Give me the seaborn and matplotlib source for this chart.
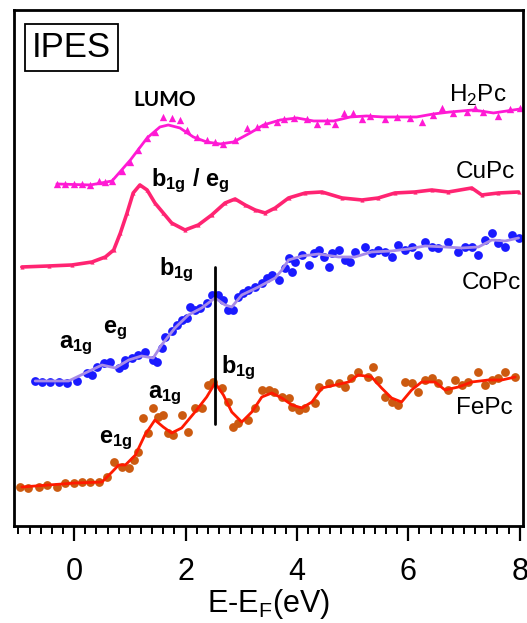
import matplotlib
matplotlib.use("Agg")
import matplotlib.pyplot as plt
import seaborn as sns

# Données (énergie en eV, intensité en unités arbitraires, décalées)
h2pc_fit_x = [-0.31, 0.29, 0.68, 1.01, 1.31, 1.54, 1.69, 1.90, 2.14, 2.38, 2.62, 2.86, 3.16, 3.40,
              3.70, 4.00, 4.30, 4.66, 4.96, 5.25, 5.55, 6.15, 6.45, 6.75, 7.17, 7.53, 8.01]
h2pc_fit_y = [3.42, 3.41, 3.45, 3.66, 3.88, 3.99, 4.01, 3.98, 3.89, 3.84, 3.82, 3.84, 3.93, 4.01,
              4.06, 4.08, 4.05, 4.05, 4.09, 4.10, 4.09, 4.09, 4.12, 4.14, 4.16, 4.13, 4.17]
h2pc_x = [-0.31, -0.16, -0.01, 0.14, 0.29, 0.44, 0.56, 0.68, 0.86, 1.01, 1.15, 1.30, 1.45, 1.60,
          1.75, 1.90, 2.02, 2.20, 2.38, 2.53, 2.68, 2.89, 3.10, 3.28, 3.43, 3.64, 3.76, 3.94,
          4.18, 4.36, 4.54, 4.69, 4.84, 5.01, 5.16, 5.31, 5.58, 5.79, 6.03, 6.24, 6.45, 6.60,
          6.81, 7.05, 7.20, 7.35, 7.62, 7.83, 8.01]
h2pc_y = [3.42, 3.42, 3.42, 3.42, 3.41, 3.45, 3.44, 3.45, 3.55, 3.64, 3.76, 3.88, 3.94, 4.09,
          4.08, 4.06, 3.96, 3.89, 3.86, 3.84, 3.82, 3.86, 3.98, 3.99, 4.02, 4.04, 4.07, 4.08,
          4.07, 4.02, 4.05, 4.02, 4.13, 4.13, 4.07, 4.10, 4.07, 4.09, 4.08, 4.04, 4.11, 4.18,
          4.13, 4.14, 4.18, 4.14, 4.10, 4.17, 4.18]

cupc_x = [-0.94, -0.46, -0.04, 0.32, 0.56, 0.71, 0.83, 0.95, 1.06, 1.18, 1.31, 1.45, 1.60, 1.75,
          1.99, 2.23, 2.47, 2.71, 2.89, 3.07, 3.25, 3.43, 3.61, 3.85, 4.15, 4.45, 4.81, 5.17,
          5.46, 5.76, 6.12, 6.42, 6.72, 7.14, 7.32, 7.62, 7.98]
cupc_y = [2.59, 2.60, 2.61, 2.64, 2.69, 2.76, 2.93, 3.13, 3.33, 3.41, 3.36, 3.23, 3.13, 3.03,
          2.96, 3.01, 3.11, 3.23, 3.27, 3.21, 3.16, 3.13, 3.18, 3.28, 3.33, 3.34, 3.28, 3.26,
          3.28, 3.33, 3.34, 3.36, 3.34, 3.38, 3.31, 3.33, 3.34]

copc_fit_x = [-0.70, -0.10, 0.20, 0.50, 0.74, 0.98, 1.21, 1.42, 1.57, 1.81, 2.05, 2.29, 2.53, 2.71,
              2.83, 3.01, 3.31, 3.61, 3.73, 3.85, 4.09, 4.39, 4.75, 5.04, 5.34, 5.70, 6.00, 6.30,
              6.66, 6.96, 7.26, 7.50, 7.74, 7.98]
copc_fit_y = [1.45, 1.45, 1.53, 1.61, 1.58, 1.66, 1.70, 1.68, 1.81, 1.98, 2.11, 2.18, 2.28, 2.21,
              2.19, 2.31, 2.39, 2.48, 2.56, 2.66, 2.70, 2.72, 2.69, 2.69, 2.74, 2.75, 2.77, 2.80,
              2.79, 2.78, 2.79, 2.86, 2.85, 2.88]
copc_x = [-0.70, -0.58, -0.43, -0.28, -0.13, 0.05, 0.23, 0.32, 0.41, 0.53, 0.65, 0.80, 0.89, 0.92,
          1.04, 1.15, 1.27, 1.42, 1.48, 1.57, 1.63, 1.75, 1.84, 1.93, 2.02, 2.08, 2.17, 2.26,
          2.38, 2.47, 2.59, 2.68, 2.77, 2.86, 2.95, 3.04, 3.13, 3.25, 3.37, 3.46, 3.55, 3.67,
          3.79, 3.85, 3.91, 3.97, 4.09, 4.21, 4.30, 4.39, 4.48, 4.57, 4.63, 4.75, 4.87, 4.96,
          5.04, 5.22, 5.34, 5.46, 5.58, 5.70, 5.82, 5.94, 6.06, 6.18, 6.30, 6.42, 6.54, 6.72,
          6.90, 7.02, 7.14, 7.26, 7.38, 7.50, 7.62, 7.74, 7.86, 7.98]
copc_y = [1.45, 1.44, 1.44, 1.44, 1.43, 1.45, 1.53, 1.51, 1.59, 1.63, 1.64, 1.58, 1.61, 1.66,
          1.68, 1.71, 1.74, 1.66, 1.64, 1.78, 1.89, 1.95, 2.01, 2.06, 2.08, 2.19, 2.16, 2.18,
          2.23, 2.31, 2.31, 2.26, 2.16, 2.16, 2.29, 2.33, 2.36, 2.39, 2.43, 2.48, 2.51, 2.46,
          2.58, 2.68, 2.54, 2.64, 2.71, 2.61, 2.73, 2.76, 2.69, 2.59, 2.73, 2.76, 2.66, 2.64,
          2.74, 2.79, 2.73, 2.76, 2.74, 2.69, 2.81, 2.76, 2.79, 2.71, 2.84, 2.79, 2.78, 2.84,
          2.74, 2.79, 2.79, 2.71, 2.86, 2.93, 2.83, 2.79, 2.91, 2.88]

fepc_fit_x = [-0.94, -0.46, 0.02, 0.50, 0.68, 0.80, 0.92, 1.10, 1.27, 1.45, 1.60, 1.75, 1.93, 2.17,
              2.38, 2.53, 2.68, 2.83, 3.01, 3.19, 3.37, 3.55, 3.73, 3.91, 4.09, 4.27, 4.45, 4.69,
              4.93, 5.10, 5.34, 5.52, 5.70, 5.88, 6.06, 6.24, 6.48, 6.66, 6.90, 7.14, 7.44, 7.68,
              7.92]
fepc_fit_y = [0.39, 0.41, 0.43, 0.44, 0.54, 0.61, 0.61, 0.71, 0.91, 1.06, 0.99, 0.93, 0.98, 1.14,
              1.29, 1.43, 1.31, 1.14, 1.04, 1.14, 1.29, 1.33, 1.28, 1.21, 1.18, 1.24, 1.38, 1.41,
              1.44, 1.51, 1.49, 1.38, 1.28, 1.24, 1.36, 1.44, 1.44, 1.36, 1.39, 1.44, 1.46, 1.46,
              1.49]
fepc_x = [-0.97, -0.82, -0.64, -0.49, -0.31, -0.16, -0.01, 0.14, 0.29, 0.44, 0.59, 0.71, 0.86,
          0.98, 1.07, 1.15, 1.24, 1.33, 1.42, 1.51, 1.60, 1.69, 1.78, 1.93, 2.05, 2.17, 2.29,
          2.41, 2.50, 2.65, 2.77, 2.86, 2.95, 3.13, 3.25, 3.37, 3.49, 3.58, 3.73, 3.85, 3.91,
          4.03, 4.15, 4.33, 4.39, 4.57, 4.75, 4.87, 4.98, 5.10, 5.28, 5.37, 5.46, 5.58, 5.70,
          5.82, 5.94, 6.06, 6.18, 6.30, 6.42, 6.54, 6.72, 6.84, 6.96, 7.08, 7.26, 7.38, 7.50,
          7.62, 7.74, 7.92]
fepc_y = [0.39, 0.38, 0.39, 0.41, 0.39, 0.43, 0.43, 0.44, 0.44, 0.44, 0.49, 0.64, 0.59,
          0.58, 0.66, 0.74, 1.08, 0.93, 1.18, 1.09, 1.11, 0.93, 0.91, 1.11, 0.94, 1.18, 1.18,
          1.41, 1.44, 1.38, 1.24, 0.99, 1.03, 1.06, 1.18, 1.36, 1.36, 1.34, 1.29, 1.28, 1.19,
          1.16, 1.18, 1.23, 1.39, 1.43, 1.43, 1.39, 1.48, 1.54, 1.49, 1.59, 1.46, 1.29, 1.24,
          1.21, 1.44, 1.43, 1.34, 1.46, 1.48, 1.43, 1.36, 1.46, 1.41, 1.44, 1.54, 1.41, 1.46,
          1.48, 1.54, 1.49]

b1g_line_x = [2.53, 2.53]
b1g_line_y = [1.02, 2.59]

sns.set_style("white")
plt.rcParams["font.family"] = ["Liberation Sans", "DejaVu Sans"]
plt.rcParams["text.color"] = "black"
plt.rcParams["xtick.color"] = "black"
plt.rcParams["axes.labelcolor"] = "black"
plt.rcParams["mathtext.fontset"] = "custom"
plt.rcParams["mathtext.rm"] = "Liberation Sans"
plt.rcParams["mathtext.bf"] = "Liberation Sans:bold"

fig = plt.figure(figsize=(5.27, 6.23), dpi=100)
ax = fig.add_axes([0.0266, 0.1557, 0.9658, 0.8283])

# H2Pc
sns.lineplot(x=h2pc_fit_x, y=h2pc_fit_y, color="#ff1ad4", lw=2, sort=False, estimator=None, ax=ax)
sns.scatterplot(x=h2pc_x, y=h2pc_y, color="#ff1ad4", marker="^", s=28, linewidth=0, ax=ax)

# CuPc
sns.lineplot(x=cupc_x, y=cupc_y, color="#ff2472", lw=2.6, sort=False, estimator=None,
             marker="^", markersize=3, markeredgewidth=0, ax=ax)

# CoPc
sns.scatterplot(x=copc_x, y=copc_y, color="#1a1aff", s=40, linewidth=0, ax=ax)
sns.lineplot(x=copc_fit_x, y=copc_fit_y, color="#a78be8", lw=2, sort=False, estimator=None, ax=ax)

# FePc
sns.scatterplot(x=fepc_x, y=fepc_y, color="#cc5a10", s=40, linewidth=0, ax=ax)
sns.lineplot(x=fepc_fit_x, y=fepc_fit_y, color="#ff1a00", lw=2, sort=False, estimator=None, ax=ax)

ax.plot(b1g_line_x, b1g_line_y, color="black", lw=2)

# étiquettes des spectres
name_kw = dict(fontsize=17.5, ha="center", va="center", color="black")
ax.text(7.25, 4.31, r"H$_2$Pc", **name_kw)
ax.text(7.38, 3.54, "CuPc", **name_kw)
ax.text(7.50, 2.43, "CoPc", **name_kw)
ax.text(7.36, 1.18, "FePc", **name_kw)

# orbitales
orb_kw = dict(fontsize=17, ha="center", va="center", color="black")
ax.text(1.63, 4.26, "LUMO", fontsize=15, fontweight="bold", ha="center", va="center",
        color="black", family=["Lato", "DejaVu Sans"])
ax.text(2.08, 3.45, r"$\mathbf{b_{1g}}$ / $\mathbf{e_g}$", fontweight="bold", **orb_kw)
ax.text(1.83, 2.56, r"$\mathbf{b_{1g}}$", **orb_kw)
ax.text(0.02, 1.81, r"$\mathbf{a_{1g}}$", **orb_kw)
ax.text(0.74, 1.96, r"$\mathbf{e_g}$", **orb_kw)
ax.text(2.94, 1.58, r"$\mathbf{b_{1g}}$", **orb_kw)
ax.text(1.63, 1.31, r"$\mathbf{a_{1g}}$", **orb_kw)
ax.text(0.74, 0.86, r"$\mathbf{e_{1g}}$", **orb_kw)

ax.text(0.112, 0.928, "IPES", transform=ax.transAxes, fontsize=25, ha="center", va="center",
        color="black",
        bbox=dict(boxstyle="square,pad=0.2", fc="white", ec="black", lw=1.3))

ax.set_xlim(-1.08, 8.06)
ax.set_ylim(0, 5.16)
ax.set_yticks([])
ax.set_xticks([0, 2, 4, 6, 8])
ax.set_xticks([-1 + 0.2 * i for i in range(46)], minor=True)
ax.tick_params(axis="x", which="major", direction="out", length=11, width=1.6,
               labelsize=22, pad=11, bottom=True, colors="black")
ax.tick_params(axis="x", which="minor", direction="out", length=6, width=1.4, bottom=True,
               colors="black")
for sp in ax.spines.values():
    sp.set_linewidth(2)
    sp.set_color("black")
ax.set_xlabel(r"E-E$_\mathrm{F}$(eV)", fontsize=22, labelpad=0, color="black")

fig.savefig("out.png", dpi=100)
